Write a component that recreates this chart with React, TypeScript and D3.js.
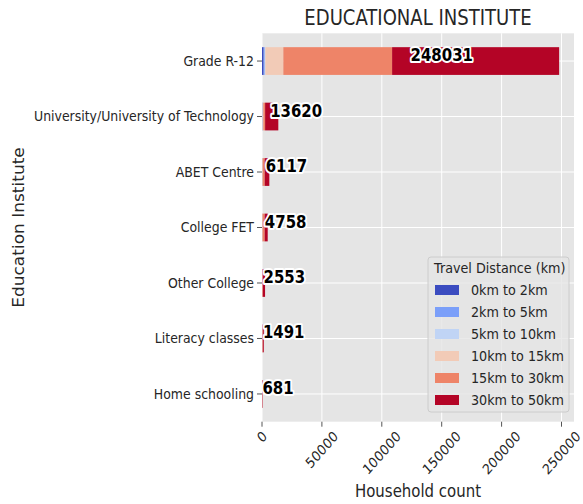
import * as d3 from "d3";
import React from "react";

// education institutes, top to bottom
const categories = [
  "Grade R-12",
  "University/University of Technology",
  "ABET Centre",
  "College FET",
  "Other College",
  "Literacy classes",
  "Home schooling",
];

const distanceBands = [
  "0km to 2km",
  "2km to 5km",
  "5km to 10km",
  "10km to 15km",
  "15km to 30km",
  "30km to 50km",
];
const bandColors = ["#3b4cc0", "#7b9ff9", "#c0d4f5", "#f2cbb7", "#ee8468", "#b40426"];

// household counts per band
const km0to2 = [1400, 200, 100, 80, 40, 50, 30];
const km2to5 = [900, 150, 80, 60, 30, 40, 30];
const km5to10 = [500, 150, 60, 50, 30, 50, 40];
const km10to15 = [15000, 600, 300, 250, 100, 150, 80];
const km15to30 = [90800, 1500, 1700, 1800, 500, 400, 200];
const km30to50 = [139431, 11020, 3877, 2518, 1853, 801, 301];

const xTickCount = 5;

const W = 583;
const H = 504;
const SX = 0.88; // text in the picture is squeezed sideways
const FONT = "'DejaVu Sans', sans-serif";
const INK = "#262626";

const sq = (x: number, y: number, rot = 0) =>
  `translate(${x},${y}) scale(${SX},1)` + (rot ? ` rotate(${rot})` : "");

export default function App() {
  const bandValues = [km0to2, km2to5, km5to10, km10to15, km15to30, km30to50];
  const rows = categories.map((name, i) => {
    const r: any = { name };
    distanceBands.forEach((b, j) => (r[b] = bandValues[j][i]));
    return r;
  });
  const layers = d3.stack().keys(distanceBands)(rows);
  const totals = rows.map((r) => d3.sum(distanceBands, (b) => r[b]));

  const x = d3
    .scaleLinear()
    .domain([0, (d3.max(totals) as number) * 1.05])
    .range([262, 574]);
  const y = d3.scaleBand().domain(categories).range([33.3, 421.7]);
  const bw = y.bandwidth();
  const barH = bw * 0.5;
  const yc = (c: string) => (y(c) as number) + bw / 2;

  const [x0, x1] = x.range();
  const [y0, y1] = y.range();
  const ticks = x.ticks(xTickCount);
  const tickFs = 14.2;

  return (
    <svg
      width={W}
      height={H}
      style={{ position: "absolute", left: 0, top: 0, background: "#fff" }}
      fontFamily={FONT}
    >
      <rect x={x0} y={y0} width={x1 - x0} height={y1 - y0} fill="#e5e5e5" />
      {ticks.map((t) => (
        <line key={t} x1={x(t)} x2={x(t)} y1={y0} y2={y1} stroke="#fff" strokeWidth={1} />
      ))}
      {categories.map((c) => (
        <line key={c} x1={x0} x2={x1} y1={yc(c)} y2={yc(c)} stroke="#fff" strokeWidth={1} />
      ))}

      {layers.map((layer, j) => (
        <g key={layer.key} fill={bandColors[j]}>
          {layer.map((d, i) => (
            <rect
              key={i}
              x={x(d[0])}
              width={Math.max(0, x(d[1]) - x(d[0]))}
              y={yc(categories[i]) - barH / 2}
              height={barH}
            />
          ))}
        </g>
      ))}

      {/* y axis */}
      {categories.map((c) => (
        <g key={c}>
          <line x1={x0 - 5} x2={x0} y1={yc(c)} y2={yc(c)} stroke="#555" />
          <text
            transform={sq(x0 - 8, yc(c))}
            textAnchor="end"
            dominantBaseline="central"
            fontSize={tickFs}
            fill={INK}
          >
            {c}
          </text>
        </g>
      ))}

      {/* x axis */}
      {ticks.map((t) => {
        const label = String(t);
        const w = label.length * 0.636 * tickFs;
        const h = 1.164 * tickFs;
        const cy = 428 + (w + h) / (2 * Math.SQRT2);
        return (
          <g key={t}>
            <line x1={x(t)} x2={x(t)} y1={y1} y2={y1 + 5} stroke="#555" />
            <text
              transform={sq(x(t), cy, -45)}
              textAnchor="middle"
              dominantBaseline="central"
              fontSize={tickFs}
              fill={INK}
            >
              {label}
            </text>
          </g>
        );
      })}

      {/* totals */}
      {categories.map((c, i) => (
        <text
          key={c}
          transform={sq(x(totals[i] / 2), yc(c))}
          fontSize={17}
          fontWeight="bold"
          fill="#000"
          stroke="#fff"
          strokeWidth={4}
          strokeLinejoin="round"
          paintOrder="stroke"
        >
          {totals[i]}
        </text>
      ))}

      <text transform={sq((x0 + x1) / 2, 25)} textAnchor="middle" fontSize={20.5} fill={INK}>
        EDUCATIONAL INSTITUTE
      </text>
      <text transform={sq((x0 + x1) / 2, 497)} textAnchor="middle" fontSize={17} fill={INK}>
        Household count
      </text>
      <text
        transform={`translate(19,${(y0 + y1) / 2}) scale(${SX},1) rotate(-90)`}
        textAnchor="middle"
        dominantBaseline="central"
        fontSize={17}
        fill={INK}
      >
        Education Institute
      </text>

      {/* legend */}
      <g>
        <rect x={428} y={257} width={141} height={155} rx={3} fill="#e5e5e5" fillOpacity={0.8} stroke="#cccccc" />
        <text transform={sq(434, 273)} fontSize={14.5} fill={INK}>
          Travel Distance (km)
        </text>
        {distanceBands.map((b, i) => (
          <g key={b}>
            <rect x={435} y={285 + 22 * i} width={24} height={10} fill={bandColors[i]} />
            <text
              transform={sq(471, 290 + 22 * i)}
              dominantBaseline="central"
              fontSize={14.5}
              fill={INK}
            >
              {b}
            </text>
          </g>
        ))}
      </g>
    </svg>
  );
}
